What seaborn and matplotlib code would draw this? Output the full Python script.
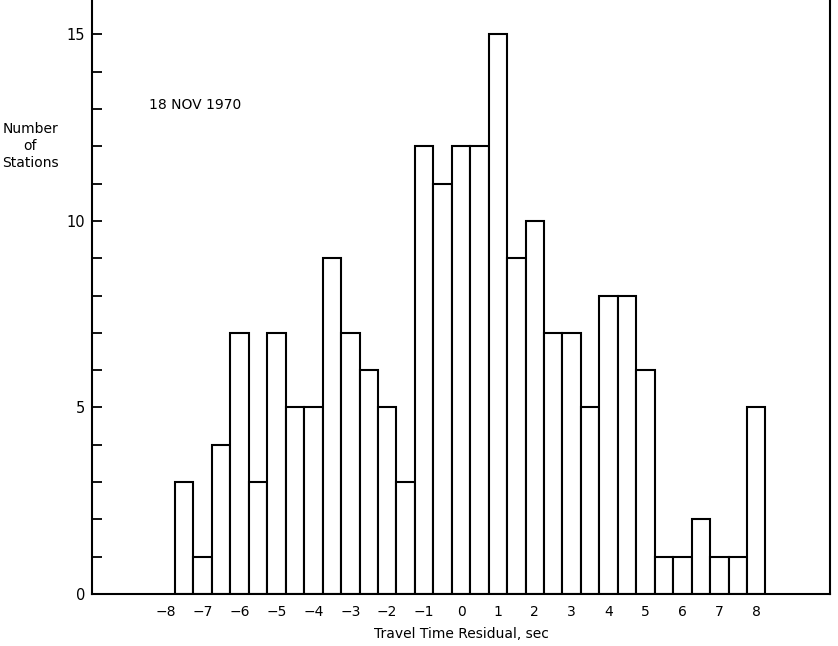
import matplotlib
matplotlib.use("Agg")
import matplotlib.pyplot as plt
import seaborn as sns
import numpy as np
import pandas as pd

# Data: bin centres (sec) and number of stations
residual_centers = [-7.5, -7.0, -6.5, -6.0, -5.5, -5.0, -4.5, -4.0, -3.5, -3.0, -2.5, -2.0,
                    -1.5, -1.0, -0.5, 0.0, 0.5, 1.0, 1.5, 2.0, 2.5, 3.0, 3.5, 4.0,
                    4.5, 5.0, 5.5, 6.0, 6.5, 7.0, 7.5, 8.0]
station_counts = [3, 1, 4, 7, 3, 7, 5, 5, 9, 7, 6, 5,
                  3, 12, 11, 12, 12, 15, 9, 10, 7, 7, 5, 8,
                  8, 6, 1, 1, 2, 1, 1, 5]
x_tick_values = [-8, -7, -6, -5, -4, -3, -2, -1, 0, 1, 2, 3, 4, 5, 6, 7, 8]
x_tick_labels = ["\u22128", "\u22127", "\u22126", "\u22125", "\u22124", "\u22123", "\u22122", "\u22121",
                 "0", "1", "2", "3", "4", "5", "6", "7", "8"]
y_tick_values = [0, 5, 10, 15]

df = pd.DataFrame({"residual": residual_centers, "count": station_counts})

sns.set_style("white")
plt.rcParams['font.family'] = ['DejaVu Sans']
plt.rcParams['text.color'] = 'black'
plt.rcParams['axes.labelcolor'] = 'black'
plt.rcParams['xtick.color'] = 'black'
plt.rcParams['ytick.color'] = 'black'

fig = plt.figure(figsize=(8.38, 6.46), dpi=100)
ax = fig.add_axes([92/838, 52/646, (830-92)/838, 594/646])

sns.histplot(data=df, x="residual", weights="count", binwidth=0.5, binrange=(-7.75, 8.25),
             color="white", edgecolor="black", linewidth=1.5, alpha=1.0, ax=ax)

ax.set_xlim(-10.0, 10.0)
ax.set_ylim(0, 15.92)

ax.set_xticks(x_tick_values)
ax.set_xticklabels(x_tick_labels, fontsize=10)
ax.tick_params(axis="x", length=0, pad=8)

ax.set_yticks(y_tick_values)
ax.set_yticks(range(0, 16), minor=True)
ax.tick_params(axis="y", which="both", direction="in", length=7, width=1.3, labelsize=10.5, pad=5, left=True)

for side in ["left", "right", "bottom"]:
    ax.spines[side].set_visible(True)
    ax.spines[side].set_linewidth(1.5)
    ax.spines[side].set_color("black")
ax.spines["top"].set_visible(False)

ax.set_xlabel("Travel Time Residual, sec", fontsize=10, labelpad=6)
ax.set_ylabel("")

fig.text(30/838, 1 - 146/646, "Number\nof\nStations", ha="center", va="center",
         fontsize=10, linespacing=1.3)

ax.text(-8.45, 13.1, "18 NOV 1970", fontsize=10, ha="left", va="center")

fig.savefig("out.png", dpi=100)
